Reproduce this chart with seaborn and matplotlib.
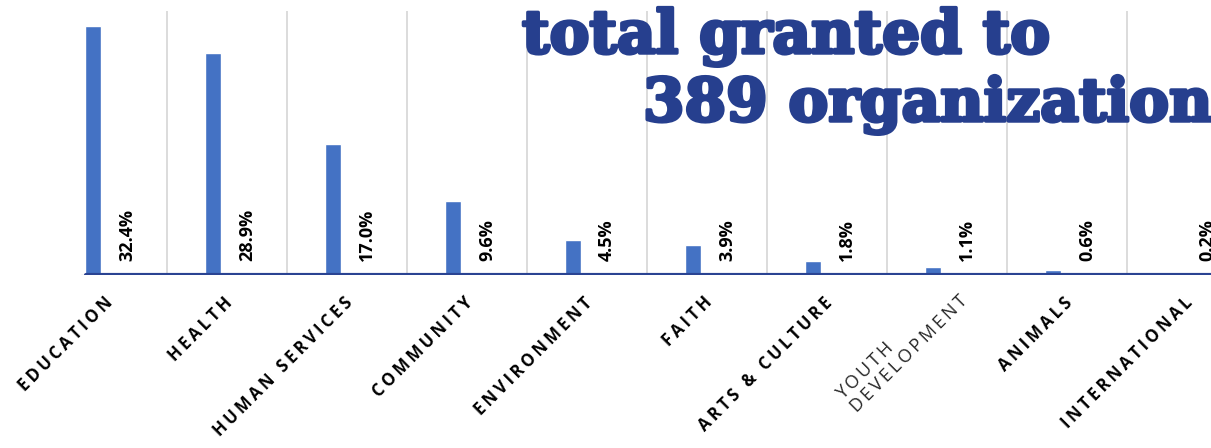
import numpy as np
import matplotlib
matplotlib.use("Agg")
import matplotlib.pyplot as plt
import matplotlib.patheffects as pe
from matplotlib.transforms import ScaledTranslation
import seaborn as sns

sns.set_theme(style="white")
plt.rcParams['font.family'] = ['Open Sans', 'DejaVu Sans']

# data
categories = ['EDUCATION', 'HEALTH', 'HUMAN SERVICES', 'COMMUNITY', 'ENVIRONMENT',
              'FAITH', 'ARTS & CULTURE', 'YOUTH\nDEVELOPMENT', 'ANIMALS', 'INTERNATIONAL']
shares = [32.4, 28.9, 17.0, 9.6, 4.5, 3.9, 1.8, 1.1, 0.6, 0.2]
share_labels = [f'{v:.1f}%' for v in shares]
title_lines = ['total granted to', '389 organizations']

bar_color = '#4472C4'
navy = '#2A4392'
title_color = '#263F8E'

fig = plt.figure(figsize=(12.11, 4.48), dpi=100)
ax = fig.add_axes([81 / 1211, (448 - 275) / 448, 1 - 81 / 1211, 264 / 448])

sns.barplot(x=categories, y=shares, color=bar_color, width=0.133,
            saturation=1, ax=ax, zorder=2)

n = len(categories)

# vertical separators between categories
ax.set_xticks(np.arange(n) + 0.617, minor=True)
ax.grid(which='minor', axis='x', color='#D9D9D9', lw=1.3, zorder=0)
ax.grid(which='major', visible=False)
ax.tick_params(axis='x', which='both', length=0)
ax.set_yticks([])
for s in ax.spines.values():
    s.set_visible(False)


def spaced(s):
    return '\n'.join('\u2009'.join(line) for line in s.split('\n'))


ax.set_xticks(np.arange(n) + 0.14)
ax.set_xticklabels([spaced(c) for c in categories], rotation=45, ha='right',
                   va='center', rotation_mode='anchor', fontsize=12,
                   fontweight='bold', color='black')
ax.tick_params(axis='x', which='major', pad=18)
for t in ax.get_xticklabels():
    if t.get_text().startswith('Y'):
        t.set_fontweight('normal')
        t.set_color('#262626')
        t.set_fontsize(13)
        t.set_multialignment('left')
        t.set_linespacing(1.05)
        t.set_transform(t.get_transform() + ScaledTranslation(0.08, 0.08, fig.dpi_scale_trans))

# limits last, so the ticks do not widen them
ax.set_xlim(-0.1, 9.317)
ax.set_ylim(0, 34.3)

# baseline
ax.axhline(0, color='#D0D0D0', lw=1, zorder=1)
ax.axhline(0, xmin=5 / 1130, color=navy, lw=3, zorder=4)

# value labels beside each bar
for i, lab in enumerate(share_labels):
    ax.text(i + 0.283, 1.8, lab, rotation=90, ha='center', va='bottom',
            fontsize=13, fontweight='bold', color='black',
            family=['Open Sans', 'DejaVu Sans'])

# big title, partly cut off on the right as in the source
heavy = [pe.withStroke(linewidth=2.5, foreground=title_color)]
fig.text(522 / 1211, 1 - 53 / 448, title_lines[0], fontsize=43, fontweight='bold',
         color=title_color, family=['DejaVu Serif'], va='baseline', ha='left',
         path_effects=heavy)
fig.text(643 / 1211, 1 - 121 / 448, title_lines[1], fontsize=43, fontweight='bold',
         color=title_color, family=['DejaVu Serif'], va='baseline', ha='left',
         path_effects=heavy)

fig.savefig('out.png', dpi=100)
